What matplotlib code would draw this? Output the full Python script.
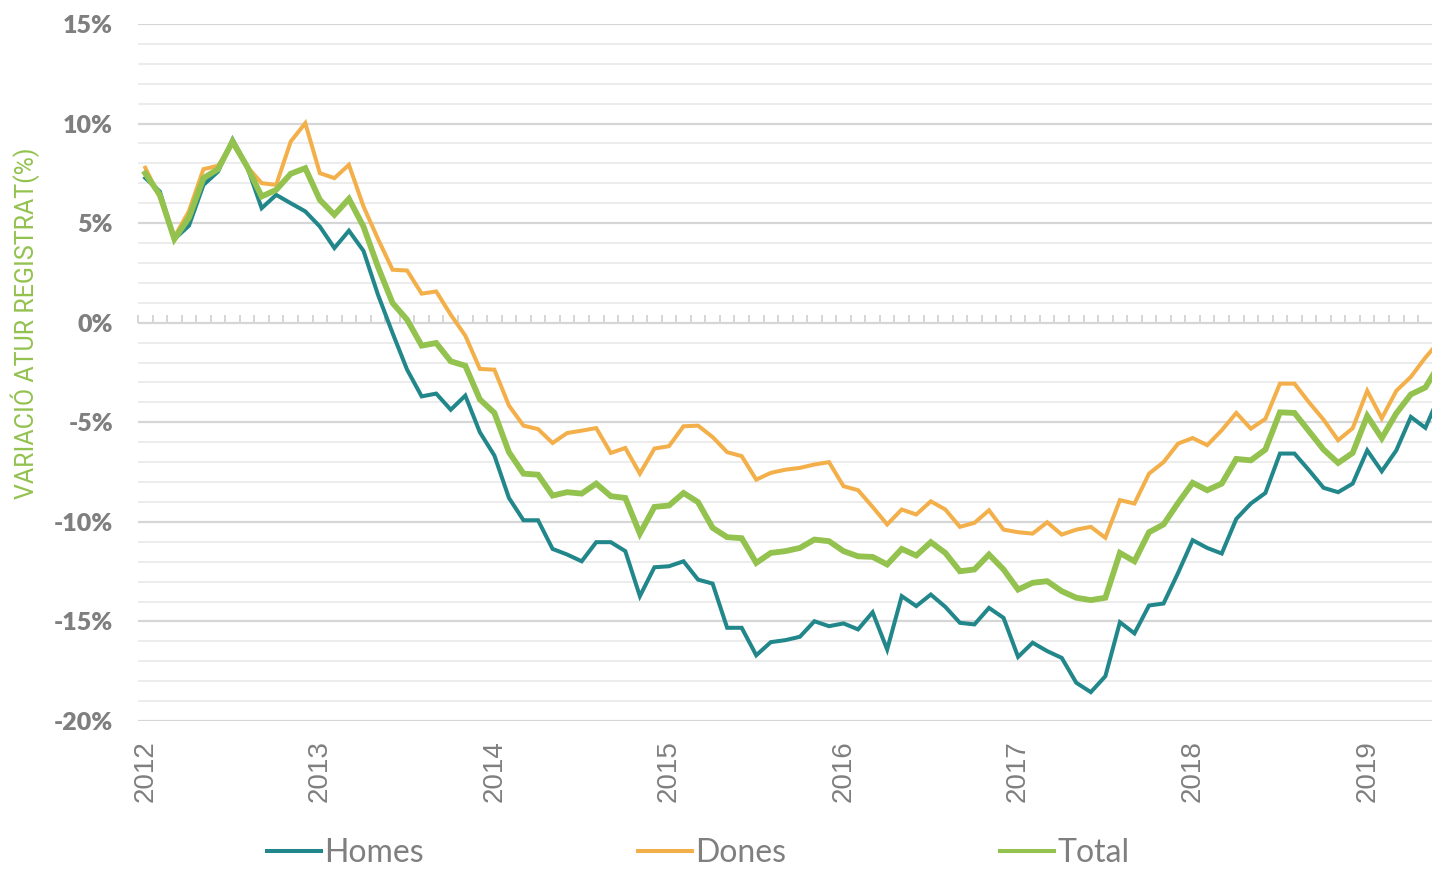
import numpy as np
import matplotlib
matplotlib.use("Agg")
import matplotlib.pyplot as plt
from matplotlib.ticker import MultipleLocator, FixedLocator, FuncFormatter

# ---- data (monthly, Jan 2012 onwards, % variation) ----
homes = [7.27, 6.59, 4.2, 4.87, 6.92, 7.59, 9.2, 7.84, 5.75, 6.42, 6.0, 5.59,
         4.83, 3.75, 4.62, 3.61, 1.4, -0.52, -2.36, -3.7, -3.56, -4.37, -3.66, -5.5,
         -6.67, -8.8, -9.92, -9.92, -11.36, -11.64, -11.98, -11.02, -11.02, -11.47, -13.73, -12.28,
         -12.23, -11.98, -12.9, -13.1, -15.32, -15.32, -16.7, -16.04, -15.94, -15.77, -14.99, -15.24,
         -15.1, -15.4, -14.54, -16.41, -13.73, -14.23, -13.65, -14.27, -15.07, -15.15, -14.32, -14.82,
         -16.78, -16.07, -16.49, -16.83, -18.08, -18.55, -17.75, -15.04, -15.6, -14.2, -14.1, -12.56,
         -10.92, -11.31, -11.59, -9.85, -9.08, -8.55, -6.57, -6.57, -7.41, -8.29, -8.51, -8.08,
         -6.41, -7.46, -6.41, -4.73, -5.28, -3.6]
dones = [7.78, 6.3, 4.3, 5.6, 7.71, 7.88, 9.0, 7.84, 7.01, 6.92, 9.1, 10.02,
         7.51, 7.26, 7.93, 5.84, 4.2, 2.66, 2.62, 1.46, 1.57, 0.4, -0.65, -2.32,
         -2.36, -4.16, -5.17, -5.34, -6.04, -5.54, -5.42, -5.29, -6.54, -6.29, -7.58, -6.32,
         -6.2, -5.2, -5.17, -5.74, -6.5, -6.7, -7.88, -7.54, -7.38, -7.29, -7.12, -7.0,
         -8.21, -8.41, -9.25, -10.13, -9.38, -9.63, -8.97, -9.38, -10.25, -10.05, -9.42, -10.39,
         -10.52, -10.59, -10.02, -10.64, -10.39, -10.25, -10.8, -8.91, -9.08, -7.58, -7.0, -6.07,
         -5.79, -6.15, -5.4, -4.53, -5.32, -4.83, -3.06, -3.06, -4.0, -4.87, -5.9, -5.3,
         -3.42, -4.8, -3.42, -2.72, -1.75, -0.9]
total = [7.5, 6.42, 4.2, 5.27, 7.26, 7.71, 9.1, 7.84, 6.34, 6.67, 7.48, 7.76,
         6.17, 5.42, 6.22, 4.83, 2.8, 0.99, 0.15, -1.15, -1.02, -1.94, -2.16, -3.85,
         -4.53, -6.5, -7.58, -7.63, -8.68, -8.51, -8.58, -8.08, -8.71, -8.8, -10.59, -9.25,
         -9.18, -8.55, -9.01, -10.3, -10.77, -10.82, -12.06, -11.56, -11.47, -11.31, -10.89, -10.97,
         -11.47, -11.73, -11.76, -12.14, -11.36, -11.69, -11.02, -11.56, -12.48, -12.39, -11.64, -12.39,
         -13.4, -13.06, -12.98, -13.48, -13.81, -13.93, -13.81, -11.56, -11.98, -10.52, -10.13, -9.05,
         -8.04, -8.41, -8.08, -6.84, -6.91, -6.37, -4.5, -4.53, -5.45, -6.37, -7.04, -6.54,
         -4.68, -5.8, -4.55, -3.6, -3.25, -2.05]
years = ["2012", "2013", "2014", "2015", "2016", "2017", "2018", "2019"]
series_names = ["Homes", "Dones", "Total"]

C_HOMES = "#21878a"
C_DONES = "#f3b04a"
C_TOTAL = "#93c24f"
GRAY_TXT = "#7f7f7f"

W, H = 1432, 872
fig = plt.figure(figsize=(W / 100, H / 100), dpi=100)
ax = fig.add_axes([138 / W, 1 - 721 / H, 1 - 138 / W, (721 - 24) / H])

months = np.arange(len(homes))
ax.set_xlim(-0.5, (1432 - 145) / 14.55)
ax.set_ylim(-20, 15)

# grid
ax.yaxis.set_major_locator(MultipleLocator(5))
ax.yaxis.set_minor_locator(MultipleLocator(1))
ax.grid(which="minor", axis="y", color="#ececec", linewidth=1.4, zorder=0)
ax.grid(which="major", axis="y", color="#d6d6d6", linewidth=1.6, zorder=0)
ax.set_axisbelow(True)
for s in ax.spines.values():
    s.set_visible(False)

ax.yaxis.set_major_formatter(FuncFormatter(lambda v, p: f"{v:.0f}%"))
ax.tick_params(axis="y", which="both", length=0, pad=18, labelsize=18,
               labelcolor=GRAY_TXT)
for lab in ax.get_yticklabels():
    lab.set_fontfamily("Lato")
    lab.set_fontweight("heavy")

# year labels at bottom
ax.set_xticks(months[::12][:len(years)])
ax.set_xticklabels(years, rotation=90, fontsize=20, color=GRAY_TXT,
                   fontfamily="Liberation Sans")
ax.tick_params(axis="x", length=0, pad=14)

# zero axis with monthly boundary ticks
sec = ax.secondary_xaxis(20 / 35)
sec.xaxis.set_major_locator(FixedLocator(months - 0.5))
sec.tick_params(axis="x", direction="out", length=6, width=1.4, color="#d6d6d6",
                labelbottom=False, labeltop=False)
sec.spines["bottom"].set_color("#d6d6d6")
sec.spines["bottom"].set_linewidth(1.6)
sec.spines["top"].set_visible(False)

# lines
ax.plot(months, homes, color=C_HOMES, lw=2.9, label=series_names[0], zorder=3,
        solid_joinstyle="miter")
ax.plot(months, dones, color=C_DONES, lw=2.9, label=series_names[1], zorder=4,
        solid_joinstyle="miter")
ax.plot(months, total, color=C_TOTAL, lw=4.2, label=series_names[2], zorder=5,
        solid_joinstyle="miter")

# y label
fig.text(25 / W, 1 - 323 / H, "VARIACIÓ ATUR REGISTRAT(%)", rotation=90,
         ha="center", va="center", color=C_TOTAL, fontsize=18,
         fontfamily="Roboto")

# legend
handles, labels = ax.get_legend_handles_labels()
leg = fig.legend(handles, labels, loc="center", bbox_to_anchor=(698 / W, 1 - 853 / H),
                 ncol=3, frameon=False, prop={"family": "Lato", "size": 23},
                 handlelength=1.69, handletextpad=0.1, columnspacing=6.7,
                 borderpad=0, borderaxespad=0)
for t in leg.get_texts():
    t.set_color(GRAY_TXT)
for lh in leg.legend_handles:
    lh.set_linewidth(2.9)

fig.savefig("out.png", dpi=100)
